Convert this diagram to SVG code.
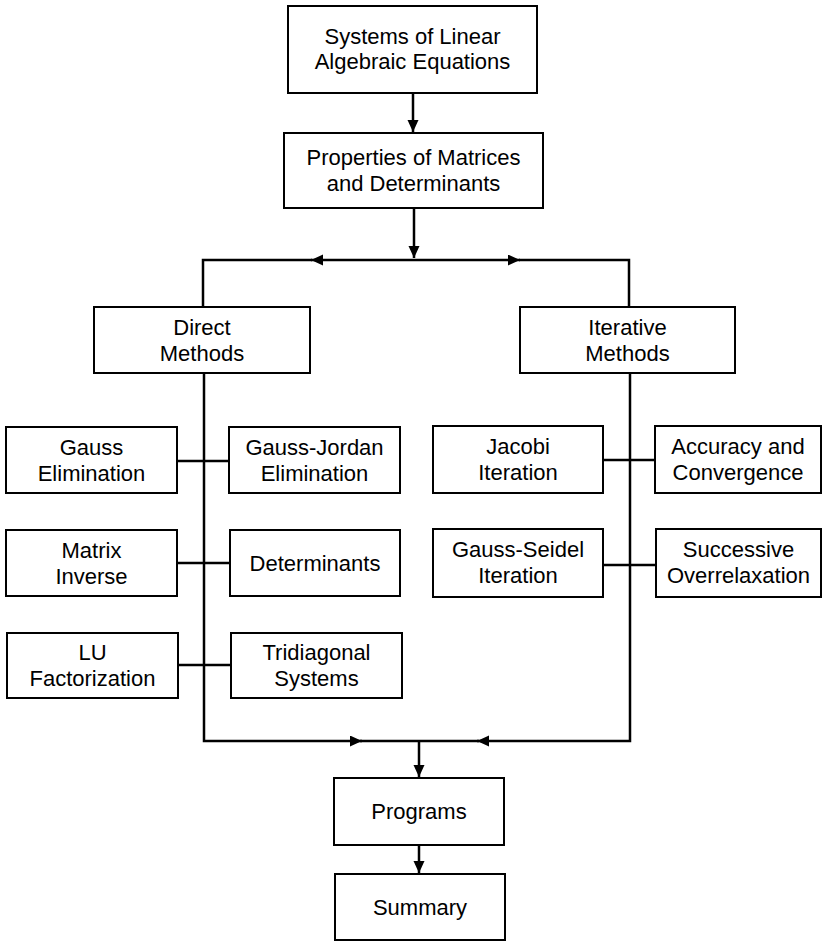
<svg xmlns="http://www.w3.org/2000/svg" width="822" height="942" viewBox="0 0 822 942">
<style>
.box{fill:#fff;stroke:#000;stroke-width:2}
.t{font-family:"Liberation Sans",Arial,sans-serif;font-size:22px;fill:#000;text-anchor:middle}
.c{fill:none;stroke:#000;stroke-width:2.5}
</style>
<defs>
<marker id="ah" markerUnits="userSpaceOnUse" markerWidth="14" markerHeight="12" refX="12" refY="5.5" orient="auto">
<path d="M0,0 L12,5.5 L0,11 Z" fill="#000"/>
</marker>
</defs>
<rect width="822" height="942" fill="#fff"/>
<g id="connectors">
<path class="c" d="M413,93 V132" marker-end="url(#ah)"/>
<path class="c" d="M414,208 V258" marker-end="url(#ah)"/>
<path class="c" d="M414,260 H311" marker-end="url(#ah)"/>
<path class="c" d="M312,260 H203 V307"/>
<path class="c" d="M414,260 H520" marker-end="url(#ah)"/>
<path class="c" d="M519,260 H629 V307"/>
<path class="c" d="M204,373 V741 H362" marker-end="url(#ah)"/>
<path class="c" d="M360,741 H419"/>
<path class="c" d="M630,373 V741 H477" marker-end="url(#ah)"/>
<path class="c" d="M479,741 H419"/>
<path class="c" d="M419,741 V777" marker-end="url(#ah)"/>
<path class="c" d="M419,845 V873" marker-end="url(#ah)"/>
<path class="c" d="M177,461 H229"/>
<path class="c" d="M177,563 H230"/>
<path class="c" d="M178,665 H231"/>
<path class="c" d="M603,460 H655"/>
<path class="c" d="M603,565 H656"/>
</g>
<g id="n1"><rect class="box" x="288" y="6" width="249" height="87"/><text class="t" x="412.5" y="44">Systems of Linear</text><text class="t" x="412.5" y="69">Algebraic Equations</text></g>
<g id="n2"><rect class="box" x="284" y="133" width="259" height="75"/><text class="t" x="413.5" y="165">Properties of Matrices</text><text class="t" x="413.5" y="191">and Determinants</text></g>
<g id="n3"><rect class="box" x="94" y="307" width="216" height="66"/><text class="t" x="202" y="335">Direct</text><text class="t" x="202" y="361">Methods</text></g>
<g id="n4"><rect class="box" x="520" y="307" width="215" height="66"/><text class="t" x="627.5" y="335">Iterative</text><text class="t" x="627.5" y="361">Methods</text></g>
<g id="n5"><rect class="box" x="6" y="427" width="171" height="66"/><text class="t" x="91.5" y="455">Gauss</text><text class="t" x="91.5" y="481">Elimination</text></g>
<g id="n6"><rect class="box" x="229" y="427" width="171" height="66"/><text class="t" x="314.5" y="455">Gauss-Jordan</text><text class="t" x="314.5" y="481">Elimination</text></g>
<g id="n7"><rect class="box" x="6" y="530" width="171" height="66"/><text class="t" x="91.5" y="558">Matrix</text><text class="t" x="91.5" y="584">Inverse</text></g>
<g id="n8"><rect class="box" x="230" y="530" width="170" height="66"/><text class="t" x="315" y="571">Determinants</text></g>
<g id="n9"><rect class="box" x="7" y="633" width="171" height="65"/><text class="t" x="92.5" y="660">LU</text><text class="t" x="92.5" y="686">Factorization</text></g>
<g id="n10"><rect class="box" x="231" y="633" width="171" height="65"/><text class="t" x="316.5" y="660">Tridiagonal</text><text class="t" x="316.5" y="686">Systems</text></g>
<g id="n11"><rect class="box" x="433" y="426" width="170" height="67"/><text class="t" x="518" y="454">Jacobi</text><text class="t" x="518" y="480">Iteration</text></g>
<g id="n12"><rect class="box" x="655" y="426" width="166" height="67"/><text class="t" x="738" y="454">Accuracy and</text><text class="t" x="738" y="480">Convergence</text></g>
<g id="n13"><rect class="box" x="433" y="529" width="170" height="68"/><text class="t" x="518" y="557">Gauss-Seidel</text><text class="t" x="518" y="583">Iteration</text></g>
<g id="n14"><rect class="box" x="656" y="529" width="165" height="68"/><text class="t" x="738.5" y="557">Successive</text><text class="t" x="738.5" y="583">Overrelaxation</text></g>
<g id="n15"><rect class="box" x="334" y="778" width="170" height="67"/><text class="t" x="419" y="819">Programs</text></g>
<g id="n16"><rect class="box" x="335" y="874" width="170" height="66"/><text class="t" x="420" y="915">Summary</text></g>
</svg>
